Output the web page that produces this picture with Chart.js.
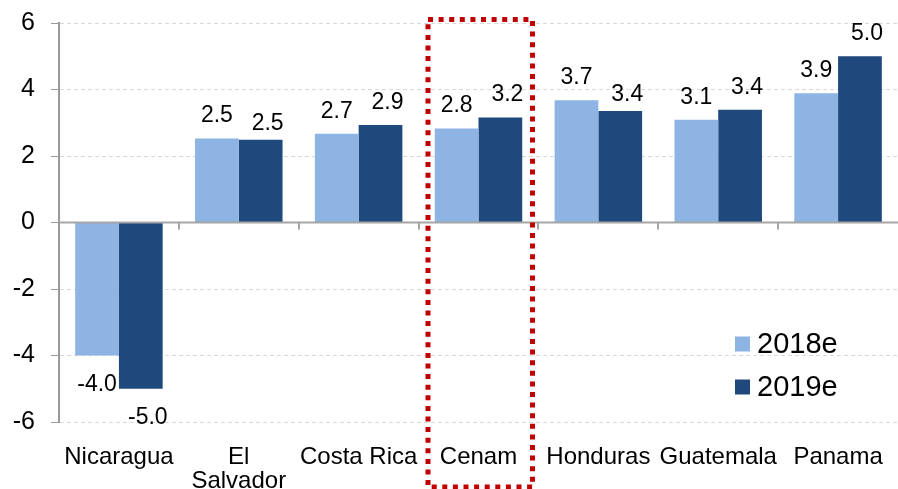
<!DOCTYPE html>
<html>
<head>
<meta charset="utf-8">
<script src="https://cdn.jsdelivr.net/npm/chart.js@4.4.1/dist/chart.umd.min.js"></script>
<style>
    html, body { margin: 0; padding: 0; background: #fff; }
    #wrap { width: 898px; height: 489px; position: relative; }
</style>
</head>
<body>
<div id="wrap"><canvas id="chart"></canvas></div>
<script>
// Datos del gráfico
const categories = ['Nicaragua', ['El', 'Salvador'], 'Costa Rica', 'Cenam', 'Honduras', 'Guatemala', 'Panama'];
const values2018 = [-4.0, 2.53, 2.67, 2.83, 3.68, 3.09, 3.89];
const values2019 = [-5.0, 2.49, 2.93, 3.16, 3.35, 3.39, 5.0];
const seriesNames = ['2018e', '2019e'];
const yTicks = [-6, -4, -2, 0, 2, 4, 6];
const highlightIndex = 3; // Cenam

const FONT = "Arial, 'Liberation Sans', sans-serif";
const colors = ['#8EB4E3', '#1F497D'];

// Etiquetas de valores
const valueLabels = {
    id: 'valueLabels',
    afterDatasetsDraw(chart) {
        const ctx = chart.ctx;
        ctx.save();
        ctx.font = '23px ' + FONT;
        ctx.fillStyle = '#000';
        ctx.textAlign = 'center';
        ctx.textBaseline = 'alphabetic';
        chart.data.datasets.forEach((ds, di) => {
            const meta = chart.getDatasetMeta(di);
            meta.data.forEach((bar, i) => {
                const v = ds.data[i];
                const dx = di === 1 ? 7 : 0;
                let y;
                if (v < 0) {
                    y = bar.y + 35;
                } else {
                    const lower = di === 1 && v < values2018[i];
                    y = bar.y - (lower ? 10 : 16);
                }
                ctx.fillText(v.toFixed(1), bar.x + dx, y);
            });
        });
        ctx.restore();
    }
};

// Línea de cero con marcas entre categorías
const zeroLine = {
    id: 'zeroLine',
    afterDatasetsDraw(chart) {
        const ctx = chart.ctx;
        const y0 = chart.scales.y.getPixelForValue(0);
        const area = chart.chartArea;
        ctx.save();
        ctx.strokeStyle = '#A6A6A6';
        ctx.lineWidth = 2;
        ctx.beginPath();
        ctx.moveTo(area.left, y0);
        ctx.lineTo(area.right, y0);
        const w = (area.right - area.left) / categories.length;
        for (let i = 1; i < categories.length; i++) {
            const px = Math.round(area.left + i * w);
            ctx.moveTo(px, y0);
            ctx.lineTo(px, y0 + 7);
        }
        ctx.stroke();
        ctx.restore();
    }
};

// Recuadro punteado y leyenda
const overlay = {
    id: 'overlay',
    afterDraw(chart) {
        const ctx = chart.ctx;
        const x = chart.scales.x;
        const y = chart.scales.y;
        const c = x.getPixelForValue(highlightIndex);
        const top = y.getPixelForValue(6) - 3.5;
        ctx.save();
        ctx.strokeStyle = '#C00000';
        ctx.lineWidth = 5;
        ctx.setLineDash([5, 5.6]);
        ctx.strokeRect(c - 50.5, top, 104.5, 487 - top);
        ctx.setLineDash([]);

        ctx.font = '29px ' + FONT;
        ctx.textBaseline = 'middle';
        ctx.textAlign = 'left';
        seriesNames.forEach((name, i) => {
            const cy = 344 + i * 43;
            ctx.fillStyle = colors[i];
            ctx.fillRect(735, cy - 7.5, 15, 15);
            ctx.fillStyle = '#000';
            ctx.fillText(name, 757, cy + 1);
        });
        ctx.restore();
    }
};

new Chart(document.getElementById('chart'), {
    type: 'bar',
    data: {
        labels: categories,
        datasets: [
            { label: seriesNames[0], data: values2018, backgroundColor: colors[0] },
            { label: seriesNames[1], data: values2019, backgroundColor: colors[1] }
        ]
    },
    options: {
        responsive: true,
        maintainAspectRatio: false,
        animation: false,
        events: [],
        layout: { padding: { top: 23, right: -5, left: 0, bottom: 0 } },
        datasets: {
            bar: { categoryPercentage: 0.73, barPercentage: 1.0 }
        },
        plugins: {
            legend: { display: false },
            tooltip: { enabled: false },
            title: { display: false }
        },
        scales: {
            x: {
                grid: { display: false },
                border: { display: false },
                ticks: {
                    color: '#000',
                    padding: 16,
                    maxRotation: 0,
                    autoSkip: false,
                    font: { family: FONT, size: 24, lineHeight: 0.98 }
                },
                afterFit(scale) {
                    scale.height = 67;
                    scale.paddingLeft = 0;
                    scale.paddingRight = 0;
                }
            },
            y: {
                min: -6,
                max: 6,
                afterBuildTicks(scale) {
                    scale.ticks = yTicks.map(v => ({ value: v }));
                },
                grid: {
                    color: '#D9D9D9',
                    lineWidth: 1,
                    tickLength: 8,
                    tickColor: '#999999',
                    drawTicks: true
                },
                border: { display: true, color: '#999999', width: 2, dash: [4, 3] },
                ticks: {
                    color: '#000',
                    padding: 16,
                    font: { family: FONT, size: 25 },
                    callback: v => String(v)
                },
                afterFit(scale) {
                    scale.width = 59;
                    scale.paddingTop = 0;
                    scale.paddingBottom = 0;
                }
            }
        }
    },
    plugins: [valueLabels, zeroLine, overlay]
});
</script>
</body>
</html>
